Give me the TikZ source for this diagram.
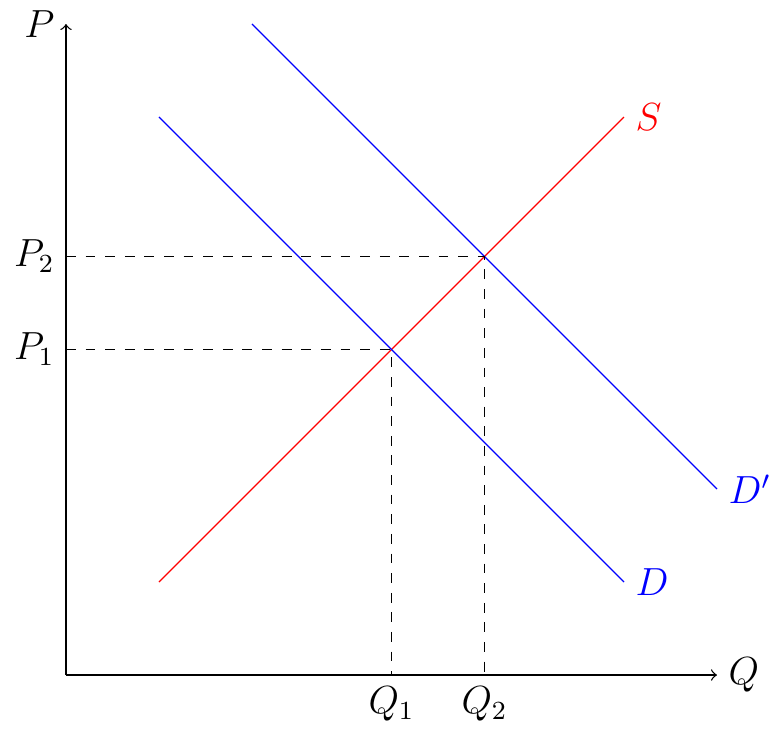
\documentclass[tikz,border=0pt]{standalone}
\begin{document}
\begin{tikzpicture}[x=0.5cm,y=0.5cm,
  every node/.style={font=\large},
  axis/.style={->},
  guide/.style={dashed},
  supply/.style={red},
  demand/.style={blue}]
\useasboundingbox (-1.419,-1.183) rectangle (15.398,14.516);
\coordinate (O) at (0,0);
\coordinate (ytop) at (0,14);
\coordinate (xend) at (14,0);
\draw[axis] (O) -- (ytop) node[left] (Plab) {$P$};
\draw[axis] (O) -- (xend) node[right] (Qlab) {$Q$};
\coordinate (s1) at (2,2);
\coordinate (s2) at (12,12);
\coordinate (d1) at (2,12);
\coordinate (d2) at (12,2);
\coordinate (dd1) at (4,14);
\coordinate (dd2) at (14,4);
\draw[supply] (s1) -- (s2) node[right] (Slab) {$S$};
\draw[demand] (d1) -- (d2) node[right] (Dlab) {$D$};
\draw[demand] (dd1) -- (dd2) node[right] (DDlab) {$D'$};
\coordinate (E1) at (7,7);
\coordinate (E2) at (9,9);
\coordinate (p1) at (0,7);
\coordinate (p2) at (0,9);
\coordinate (q1) at (7,0);
\coordinate (q2) at (9,0);
\node[left] (P1lab) at (p1) {$P_1$};
\node[left] (P2lab) at (p2) {$P_2$};
\node[below] (Q1lab) at (q1) {$Q_1$};
\node[below] (Q2lab) at (q2) {$Q_2$};
\draw[guide] (p1) -- (E1) -- (q1);
\draw[guide] (p2) -- (E2) -- (q2);
\end{tikzpicture}
\end{document}
